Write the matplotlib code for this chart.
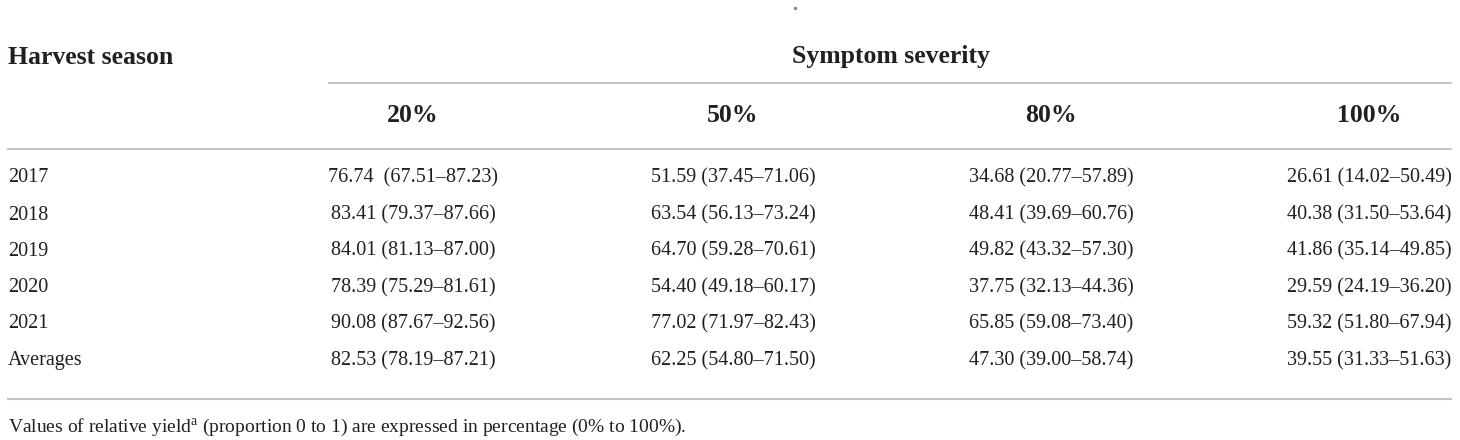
import matplotlib
matplotlib.use("Agg")
import matplotlib.pyplot as plt

plt.rcParams['font.family'] = ['Liberation Serif', 'DejaVu Serif']
plt.rcParams['mathtext.fontset'] = 'custom'
plt.rcParams['mathtext.rm'] = 'Liberation Serif'

seasons = ["2017", "2018", "2019", "2020", "2021", "Averages"]
severity = ["20%", "50%", "80%", "100%"]

# relative yield (%) with lower and upper limits, one list per severity column
mean_20 = [76.74, 83.41, 84.01, 78.39, 90.08, 82.53]
low_20 = [67.51, 79.37, 81.13, 75.29, 87.67, 78.19]
up_20 = [87.23, 87.66, 87.00, 81.61, 92.56, 87.21]

mean_50 = [51.59, 63.54, 64.70, 54.40, 77.02, 62.25]
low_50 = [37.45, 56.13, 59.28, 49.18, 71.97, 54.80]
up_50 = [71.06, 73.24, 70.61, 60.17, 82.43, 71.50]

mean_80 = [34.68, 48.41, 49.82, 37.75, 65.85, 47.30]
low_80 = [20.77, 39.69, 43.32, 32.13, 59.08, 39.00]
up_80 = [57.89, 60.76, 57.30, 44.36, 73.40, 58.74]

mean_100 = [26.61, 40.38, 41.86, 29.59, 59.32, 39.55]
low_100 = [14.02, 31.50, 35.14, 24.19, 51.80, 31.33]
up_100 = [50.49, 53.64, 49.85, 36.20, 67.94, 51.63]

cols = [(mean_20, low_20, up_20), (mean_50, low_50, up_50),
        (mean_80, low_80, up_80), (mean_100, low_100, up_100)]

footnote = "(proportion 0 to 1) are expressed in percentage (0% to 100%)."

W, H = 1460, 440
fig = plt.figure(figsize=(W / 100, H / 100), dpi=100)
ax = fig.add_axes([0, 0, 1, 1])
ax.set_xlim(0, W)
ax.set_ylim(H, 0)
ax.axis("off")

txt = "#231f20"
rule = "#c4c4c4"
col_x = [413, 733, 1051, 1369]
row_y = [178, 215, 251, 288, 324, 361]

# header
ax.text(8, 57, "Harvest season", fontsize=18.5, fontweight="bold", color=txt,
        ha="left", va="center")
ax.text((col_x[0] + col_x[-1]) / 2, 57, "Symptom severity", fontsize=18.5,
        fontweight="bold", color=txt, ha="center", va="center")
ax.plot([795], [8], marker="o", ms=1.5, color="#888888")
ax.hlines(83, 328, 1452, color=rule, lw=1.5)
for x, s in zip(col_x, severity):
    ax.text(x, 115, s, fontsize=18.5, fontweight="bold", color=txt,
            ha="center", va="center")
ax.hlines(149, 7, 1452, color=rule, lw=1.5)

# body
for i, (season, y) in enumerate(zip(seasons, row_y)):
    ax.text(8, y, season, fontsize=14.5, color=txt, ha="left", va="center")
    for j, (m, lo, hi) in enumerate(cols):
        gap = "  " if (i == 0 and j == 0) else " "
        s = f"{m[i]:.2f}{gap}({lo[i]:.2f}–{hi[i]:.2f})"
        ax.text(col_x[j], y, s, fontsize=14.5, color=txt, ha="center", va="center")

ax.hlines(399, 7, 1452, color=rule, lw=1.5)

# footnote
ax.text(8, 428, r"Values of relative yield$^{\mathrm{a}}$ " + footnote,
        fontsize=14, color=txt, ha="left", va="center")

fig.savefig("out.png", dpi=100)
